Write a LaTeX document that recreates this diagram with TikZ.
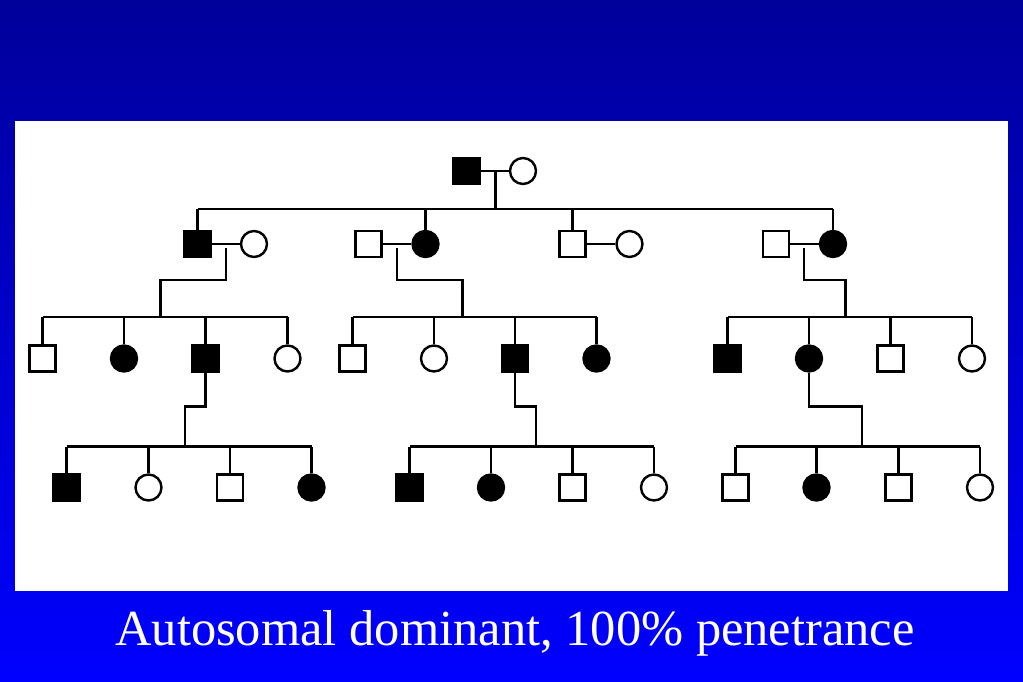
\documentclass[tikz,border=0pt]{standalone}
\usepackage{fontspec}
\setmainfont{Liberation Serif}
\usetikzlibrary{positioning,calc}

\definecolor{slidetop}{RGB}{0,0,154}
\definecolor{slidebottom}{RGB}{0,0,255}

\tikzset{
  male/.style={draw=black, fill=white, line width=2.4pt, rectangle, minimum size=26pt, inner sep=0pt},
  female/.style={draw=black, fill=white, line width=2.4pt, circle, minimum size=26pt, inner sep=0pt},
  affected/.style={fill=black},
  line/.style={draw=black, line width=2.4pt}
}

\begin{document}
\begin{tikzpicture}[x=1pt, y=-1pt]
  \useasboundingbox (0,0) rectangle (1023,682);
  \shade[top color=slidetop, bottom color=slidebottom] (0,0) rectangle (1023,682);
  \fill[white] (15,121) rectangle (1008,591);

  % generation I
  \node (I1) [male, affected] at (466.5,171) {};
  \node (I2) [female] at (523,171) {};
  \draw[line] (I1) -- (I2);
  \coordinate (m1) at (495.5,171);
  \coordinate (s1) at (495.5,209);
  \draw[line] (m1) -- (s1);

  % generation II
  \node (II1) [male, affected] at (197.5,244) {};
  \node (II2) [female] at (254,244) {};
  \node (II3) [male] at (368.5,244) {};
  \node (II4) [female, affected] at (425.5,244) {};
  \node (II5) [male] at (572.5,244) {};
  \node (II6) [female] at (629.5,244) {};
  \node (II7) [male] at (776,244) {};
  \node (II8) [female, affected] at (833,244) {};
  \draw[line] (II1 |- s1) -- (II8 |- s1);
  \foreach \c in {II1,II4,II5,II8}
    \draw[line] (\c.north) -- (\c |- s1);
  \draw[line] (II1) -- (II2);
  \draw[line] (II3) -- (II4);
  \draw[line] (II5) -- (II6);
  \draw[line] (II7) -- (II8);

  % descent lines to generation III
  \coordinate (dA) at (226,248);
  \coordinate (sA) at (160.5,317);
  \coordinate (dB) at (397,248);
  \coordinate (sB) at (462.5,317);
  \coordinate (dD) at (804,248);
  \coordinate (sD) at (845.5,317);
  \draw[line] (dA) -- ($(dA)+(0,32)$) -| (sA);
  \draw[line] (dB) -- ($(dB)+(0,32)$) -| (sB);
  \draw[line] (dD) -- ($(dD)+(0,32)$) -| (sD);

  % generation III
  \node (III1) [male] at (42.5,358.5) {};
  \node (III2) [female, affected] at (124,358.5) {};
  \node (III3) [male, affected] at (205.5,358.5) {};
  \node (III4) [female] at (287.5,358.5) {};
  \node (III5) [male] at (352.5,358.5) {};
  \node (III6) [female] at (434,358.5) {};
  \node (III7) [male, affected] at (515,358.5) {};
  \node (III8) [female, affected] at (596.5,358.5) {};
  \node (III9) [male, affected] at (727.5,358.5) {};
  \node (III10) [female, affected] at (809,358.5) {};
  \node (III11) [male] at (890.5,358.5) {};
  \node (III12) [female] at (972,358.5) {};
  \draw[line] (III1 |- sA) -- (III4 |- sA);
  \draw[line] (III5 |- sB) -- (III8 |- sB);
  \draw[line] (III9 |- sD) -- (III12 |- sD);
  \foreach \c in {III1,III2,III3,III4,III5,III6,III7,III8,III9,III10,III11,III12}
    \draw[line] (\c.north) -- (\c |- sA);

  % descent lines to generation IV
  \coordinate (tA) at (185,446.5);
  \coordinate (tB) at (536,446.5);
  \coordinate (tD) at (862,446.5);
  \draw[line] (III3.south) |- ($(tA)+(0,-40)$) -- (tA);
  \draw[line] (III7.south) |- ($(tB)+(0,-40)$) -- (tB);
  \draw[line] (III10.south) |- ($(tD)+(0,-40)$) -- (tD);

  % generation IV
  \node (IV1) [male, affected] at (66.5,487.5) {};
  \node (IV2) [female] at (148.5,487.5) {};
  \node (IV3) [male] at (230,487.5) {};
  \node (IV4) [female, affected] at (311.5,487.5) {};
  \node (IV5) [male, affected] at (409.5,487.5) {};
  \node (IV6) [female, affected] at (491,487.5) {};
  \node (IV7) [male] at (572.5,487.5) {};
  \node (IV8) [female] at (654,487.5) {};
  \node (IV9) [male] at (735.5,487.5) {};
  \node (IV10) [female, affected] at (816.5,487.5) {};
  \node (IV11) [male] at (898.5,487.5) {};
  \node (IV12) [female] at (980,487.5) {};
  \draw[line] (IV1 |- tA) -- (IV4 |- tA);
  \draw[line] (IV5 |- tB) -- (IV8 |- tB);
  \draw[line] (IV9 |- tD) -- (IV12 |- tD);
  \foreach \c in {IV1,IV2,IV3,IV4,IV5,IV6,IV7,IV8,IV9,IV10,IV11,IV12}
    \draw[line] (\c.north) -- (\c |- tA);

  \node (caption) [anchor=base, text=white, inner sep=0pt, font=\fontsize{50.5}{58}\selectfont] at (515,645) {Autosomal dominant, 100\% penetrance};
\end{tikzpicture}
\end{document}
